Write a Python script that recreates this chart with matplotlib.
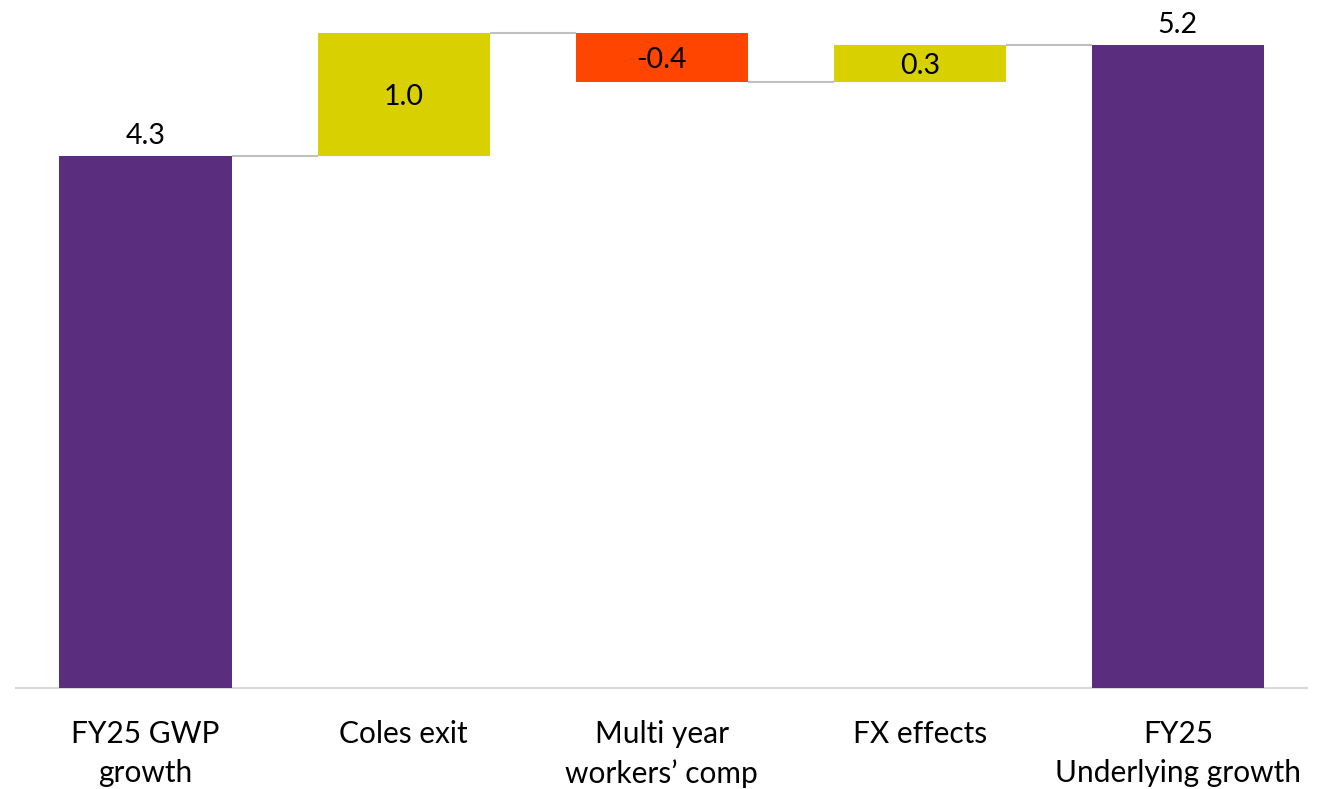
import matplotlib
matplotlib.use("Agg")
import matplotlib.pyplot as plt

# Waterfall data
categories = ["FY25 GWP\ngrowth", "Coles exit", "Multi year\nworkers\u2019 comp",
              "FX effects", "FY25\nUnderlying growth"]
values = [4.3, 1.0, -0.4, 0.3, 5.2]
kinds = ["total", "delta", "delta", "delta", "total"]

PURPLE = "#5A2D7F"
YELLOW = "#D9D000"
RED = "#FF4500"
CONNECTOR = "#BFBFBF"

plt.rcParams["font.family"] = ["Lato", "DejaVu Sans"]

fig = plt.figure(figsize=(13.29, 7.89), dpi=100)
ax = fig.add_axes([0.0124, 0.128, 0.971, 0.862])

bottoms, heights, colors = [], [], []
running = 0.0
for v, k in zip(values, kinds):
    if k == "total":
        bottoms.append(0.0)
        heights.append(v)
        colors.append(PURPLE)
        running = v
    else:
        if v >= 0:
            bottoms.append(running)
            heights.append(v)
            colors.append(YELLOW)
        else:
            bottoms.append(running + v)
            heights.append(-v)
            colors.append(RED)
        running += v

x = list(range(len(values)))
width = 0.667
ax.bar(x, heights, bottom=bottoms, width=width, color=colors, zorder=3)

# connectors between consecutive bars
level = 0.0
for i, (v, k) in enumerate(zip(values, kinds)):
    level = v if k == "total" else level + v
    if i < len(values) - 1:
        ax.plot([i + width / 2, i + 1 - width / 2], [level, level],
                color=CONNECTOR, lw=1.5, zorder=2, solid_capstyle="butt")

# value labels
for i, (v, k) in enumerate(zip(values, kinds)):
    if k == "total":
        ax.text(i, bottoms[i] + heights[i] + 0.06, f"{v:.1f}", ha="center",
                va="bottom", fontsize=20.5, color="black")
    else:
        ax.text(i, bottoms[i] + heights[i] / 2 - 0.02, f"{v:.1f}", ha="center",
                va="center", fontsize=20.5, color="black")

ax.set_xlim(-0.5, 4.5)
ax.set_ylim(0, 5.5)
ax.set_xticks(x)
ax.set_xticklabels(categories, fontsize=21.5, linespacing=1.48)
ax.tick_params(axis="x", length=0, pad=23)
ax.set_yticks([])
for s in ["top", "right", "left"]:
    ax.spines[s].set_visible(False)
ax.spines["bottom"].set_color("#D9D9D9")
ax.spines["bottom"].set_linewidth(1.5)

fig.savefig("out.png", dpi=100)
